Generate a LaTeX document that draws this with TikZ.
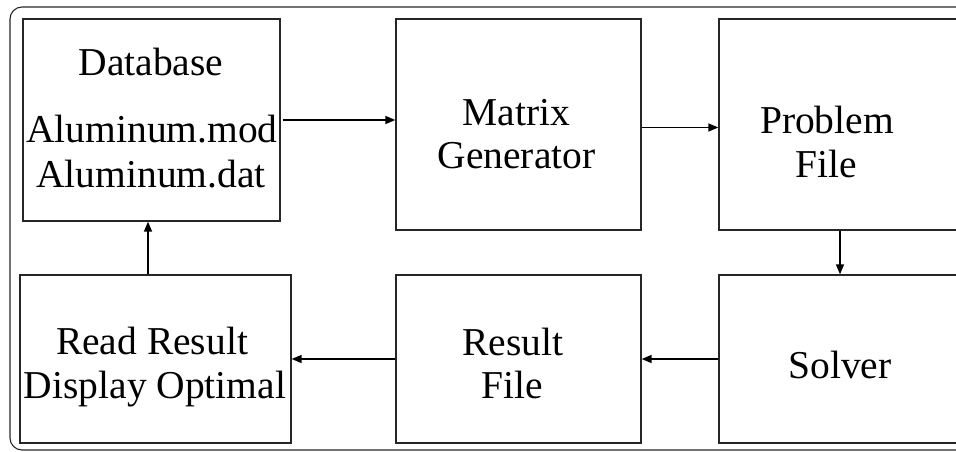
\documentclass[tikz,border=0pt]{standalone}
\usepackage{fontspec}
\setmainfont{Liberation Serif}
\usetikzlibrary{arrows.meta}
\tikzset{
  stage/.style={draw=black!85, line width=1.3pt, rectangle, inner sep=0pt},
  lbl/.style={anchor=base, inner sep=0pt, font=\fontsize{39.5}{44}\selectfont},
  flow/.style={draw=black, line width=1.4pt, -{Triangle[length=10pt,width=8pt]}},
  frame/.style={draw=black!85, line width=1.1pt, rounded corners=12pt}
}
\begin{document}
\begin{tikzpicture}[x=1pt,y=-1pt]
  \useasboundingbox (0,0) rectangle (956,452);
  \clip (0,0) rectangle (956,452);
  % outer frame
  \draw[frame] (10,7) rectangle (985,450);
  % process stages
  \node[stage, minimum width=257pt, minimum height=202pt] (db) at (151.5,120) {};
  \node[stage, minimum width=245pt, minimum height=211pt] (mg) at (518.5,124.5) {};
  \node[stage, minimum width=242pt, minimum height=211pt] (pf) at (840,124.5) {};
  \node[stage, minimum width=271pt, minimum height=168pt] (rr) at (155.5,359) {};
  \node[stage, minimum width=245pt, minimum height=168pt] (rf) at (518.5,359) {};
  \node[stage, minimum width=242pt, minimum height=168pt] (sv) at (840,359) {};
  % stage labels
  \node[lbl] (db1) at (151,76) {Database};
  \node[lbl] (db2) at (152,142) {Aluminum.mod};
  \node[lbl] (db3) at (151,187) {Aluminum.dat};
  \node[lbl] (mg1) at (516.5,125) {Matrix};
  \node[lbl] (mg2) at (516.5,168) {Generator};
  \node[lbl] (pf1) at (827,133) {Problem};
  \node[lbl] (pf2) at (826,177) {File};
  \node[lbl] (sv1) at (840,378) {Solver};
  \node[lbl] (rf1) at (513,355) {Result};
  \node[lbl] (rf2) at (512.5,398) {File};
  \node[lbl] (rr1) at (152,354) {Read Result};
  \node[lbl] (rr2) at (155,398) {Display Optimal};
  % flow between stages
  \draw[flow] ([xshift=2pt]db.east) -- (db.east -| mg.west);
  \draw[flow] ([yshift=-3pt]mg.east) -- ([yshift=-3pt]mg.east -| pf.west);
  \draw[flow] (pf.south) -- (sv.north);
  \draw[flow] (sv.west) -- (rf.east);
  \draw[flow] (rf.west) -- (rr.east);
  \draw[flow] ([xshift=-7.5pt]rr.north) -- ([xshift=-7.5pt]rr.north |- db.south);
\end{tikzpicture}
\end{document}
